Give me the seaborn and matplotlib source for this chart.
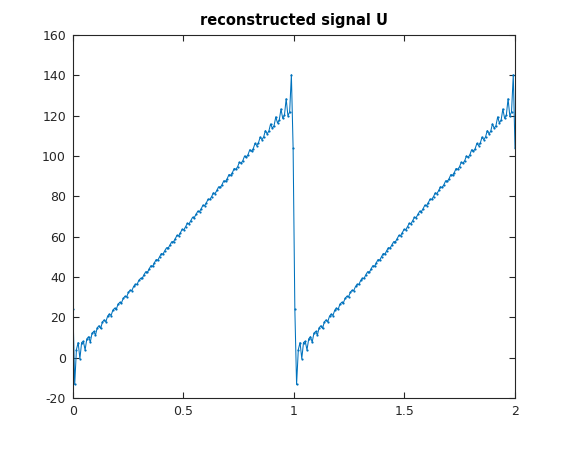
import numpy as np
import pandas as pd
import matplotlib
matplotlib.use("Agg")
import matplotlib.pyplot as plt
import seaborn as sns

# reconstructed signal, first period (samples 0..127)
u_first = [24.0, -13.3, 4.0, 7.5, -0.5, 7.5, 8.1, 3.8, 9.3, 10.4,
           7.7, 12.1, 13.0, 11.2, 14.8, 15.8, 14.5, 17.7, 18.7, 17.8,
           20.6, 21.6, 20.9, 23.5, 24.5, 24.0, 26.5, 27.4, 27.2, 29.4,
           30.4, 30.2, 32.4, 33.4, 33.3, 35.3, 36.3, 36.4, 38.3, 39.3,
           39.4, 41.2, 42.6, 42.3, 44.1, 45.6, 45.3, 47.1, 48.6, 48.4,
           50.1, 51.6, 51.4, 53.1, 54.5, 54.4, 56.0, 57.5, 57.4, 59.0,
           60.6, 60.4, 62.0, 63.6, 63.4, 65.0, 66.6, 66.4, 68.0, 69.6,
           69.5, 71.0, 72.6, 72.4, 73.9, 75.6, 75.4, 76.9, 78.6, 78.5,
           79.9, 81.7, 81.4, 82.9, 84.7, 84.4, 85.8, 87.7, 87.4, 88.8,
           90.8, 90.4, 91.8, 93.8, 93.4, 94.7, 96.9, 96.4, 97.7, 100.0,
           99.3, 100.7, 103.1, 102.3, 103.6, 106.2, 105.2, 106.5, 109.4, 108.1,
           109.4, 112.6, 111.0, 112.3, 115.9, 113.8, 115.0, 119.4, 116.4, 117.8,
           123.3, 118.7, 120.2, 128.4, 119.9, 121.8, 140.3, 104.0]
# second period (samples 128..255)
u_second = [24.0, -13.3, 4.0, 7.5, -0.5, 7.5, 8.1, 3.8, 9.3, 10.4,
            7.7, 12.1, 13.0, 11.2, 14.8, 15.8, 14.5, 17.7, 18.7, 17.8,
            20.6, 21.6, 20.9, 23.5, 24.5, 24.0, 26.5, 27.4, 27.2, 29.4,
            30.4, 30.2, 32.4, 33.4, 33.3, 35.3, 36.3, 36.4, 38.3, 39.3,
            39.4, 41.2, 42.6, 42.3, 44.1, 45.6, 45.3, 47.1, 48.6, 48.4,
            50.1, 51.6, 51.4, 53.1, 54.5, 54.4, 56.0, 57.5, 57.4, 59.0,
            60.6, 60.4, 62.0, 63.6, 63.4, 65.0, 66.6, 66.4, 68.0, 69.6,
            69.5, 71.0, 72.6, 72.4, 73.9, 75.6, 75.4, 76.9, 78.6, 78.5,
            79.9, 81.7, 81.4, 82.9, 84.7, 84.4, 85.8, 87.7, 87.4, 88.8,
            90.8, 90.4, 91.8, 93.8, 93.4, 94.7, 96.9, 96.4, 97.7, 100.0,
            99.3, 100.7, 103.1, 102.3, 103.6, 106.2, 105.2, 106.5, 109.4, 108.1,
            109.4, 112.6, 111.0, 112.3, 115.9, 113.8, 115.0, 119.4, 116.4, 117.8,
            123.3, 118.7, 120.2, 128.4, 119.9, 121.8, 140.3, 104.0]

x_start, x_end = 0.0, 2.0
x_ticks = [0, 0.5, 1, 1.5, 2]
x_tick_labels = ["0", "0.5", "1", "1.5", "2"]
y_ticks = [-20, 0, 20, 40, 60, 80, 100, 120, 140, 160]
title_text = "reconstructed signal U"

u = u_first + u_second
t = np.linspace(x_start, x_end, len(u))
df = pd.DataFrame({"t": t, "u": u})

sns.set_theme(style="white")
plt.rcParams["font.family"] = ["DejaVu Sans"]
plt.rcParams["axes.unicode_minus"] = False

fig = plt.figure(figsize=(5.7, 4.5), dpi=100)
ax = fig.add_axes([0.128, 0.1156, 0.7755, 0.8066])

sns.lineplot(data=df, x="t", y="u", ax=ax, color="#0072BD", linewidth=0.75,
             marker=".", markersize=3.2, markeredgewidth=0, markerfacecolor="#0072BD")

ax.set_xlim(0, 2)
ax.set_ylim(-20, 160)
ax.set_xticks(x_ticks)
ax.set_xticklabels(x_tick_labels)
ax.set_yticks(y_ticks)
ax.set_xlabel("")
ax.set_ylabel("")
ax.set_title(title_text, fontsize=10.5, fontweight="bold", color="#000000", pad=7)

for sp in ax.spines.values():
    sp.set_visible(True)
    sp.set_color("#262626")
    sp.set_linewidth(0.8)
ax.tick_params(axis="both", direction="in", length=4, width=0.8, colors="#262626",
               labelsize=9, labelcolor="#262626", top=True, right=True,
               bottom=True, left=True, pad=5)
ax.grid(False)

fig.savefig("out.png", dpi=100, facecolor="white")
